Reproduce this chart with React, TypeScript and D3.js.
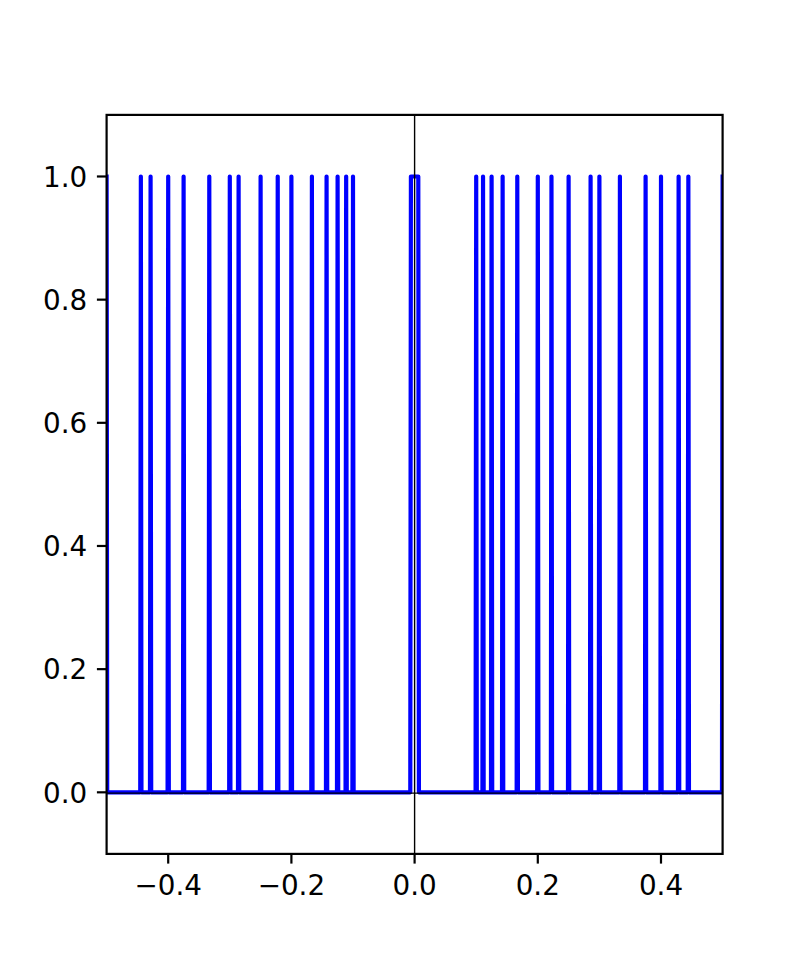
import React from "react";
import * as d3 from "d3";

// Spike positions (x where the signal equals 1)
const negativeSpikes = [
  -0.5, -0.4444, -0.4286, -0.4, -0.375, -0.3333, -0.3, -0.2857, -0.25,
  -0.2222, -0.2, -0.1667, -0.1429, -0.125, -0.1111, -0.1,
];
const positiveSpikes = [
  0.1, 0.1111, 0.125, 0.1429, 0.1667, 0.2, 0.2222, 0.25, 0.2857, 0.3,
  0.3333, 0.375, 0.4, 0.4286, 0.4444, 0.5,
];
// Central plateau (signal = 1 across this interval)
const centerBlock = [-0.006, 0.006];
const sampleStep = 0.001;

const xTicks = [-0.4, -0.2, 0.0, 0.2, 0.4];
const yTicks = [0.0, 0.2, 0.4, 0.6, 0.8, 1.0];
const xDomain = [-0.5, 0.5];
const yDomain = [-0.1, 1.1];

const W = 810;
const H = 960;
const L = 106.6;
const R = 722.6;
const T = 114.9;
const B = 853.9;

function fmt(v: number) {
  const s = Math.abs(v).toFixed(1);
  return v < -1e-9 ? "\u2212" + s : s;
}

export default function App() {
  const x = d3.scaleLinear().domain(xDomain).range([L, R]);
  const y = d3.scaleLinear().domain(yDomain).range([B, T]);

  const pts: [number, number][] = [];
  const allSpikes = [...negativeSpikes, ...positiveSpikes].sort((a, b) => a - b);
  const events: { kind: "spike" | "block"; pos: number }[] = [
    ...allSpikes.map((s) => ({ kind: "spike" as const, pos: s })),
    { kind: "block" as const, pos: centerBlock[0] },
  ].sort((a, b) => a.pos - b.pos);

  for (const e of events) {
    if (e.kind === "spike") {
      const s = e.pos;
      if (s > xDomain[0]) pts.push([s - sampleStep, 0]);
      pts.push([s, 1]);
      if (s < xDomain[1]) pts.push([s + sampleStep, 0]);
    } else {
      pts.push([centerBlock[0] - sampleStep, 0]);
      pts.push([centerBlock[0], 1]);
      pts.push([centerBlock[1], 1]);
      pts.push([centerBlock[1] + sampleStep, 0]);
    }
  }

  const line = d3
    .line<[number, number]>()
    .x((d) => x(d[0]))
    .y((d) => y(d[1]));

  const font = "'DejaVu Sans', sans-serif";
  const fs = 27.8;
  const tickLen = 9.7;
  const spineW = 2.2;

  return (
    <div style={{ position: "absolute", left: 0, top: 0 }}>
      <svg width={W} height={H} style={{ display: "block", background: "#fff" }}>
        <defs>
          <clipPath id="axclip">
            <rect x={L} y={T} width={R - L} height={B - T} />
          </clipPath>
        </defs>
        <g clipPath="url(#axclip)">
          <path
            d={line(pts) || ""}
            fill="none"
            stroke="#0000ff"
            strokeWidth={4.2}
            strokeLinejoin="round"
            strokeLinecap="square"
          />
          <line x1={x(0)} x2={x(0)} y1={T} y2={B} stroke="#000" strokeWidth={1.4} />
          <line x1={L} x2={R} y1={y(0) + 0.8} y2={y(0) + 0.8} stroke="#000" strokeWidth={1.4} />
        </g>
        {/* spines */}
        <rect
          x={L}
          y={T}
          width={R - L}
          height={B - T}
          fill="none"
          stroke="#000"
          strokeWidth={spineW}
          strokeLinejoin="miter"
        />
        {/* x ticks */}
        {xTicks.map((t) => (
          <g key={"x" + t}>
            <line x1={x(t)} x2={x(t)} y1={B} y2={B + tickLen} stroke="#000" strokeWidth={spineW} />
            <text
              x={x(t)}
              y={B + 41.5}
              textAnchor="middle"
              fontFamily={font}
              fontSize={fs}
              fill="#000"
            >
              {fmt(t)}
            </text>
          </g>
        ))}
        {/* y ticks */}
        {yTicks.map((t) => (
          <g key={"y" + t}>
            <line x1={L - tickLen} x2={L} y1={y(t)} y2={y(t)} stroke="#000" strokeWidth={spineW} />
            <text
              x={L - tickLen - 9.7}
              y={y(t) + 10.2}
              textAnchor="end"
              fontFamily={font}
              fontSize={fs}
              fill="#000"
            >
              {fmt(t)}
            </text>
          </g>
        ))}
      </svg>
    </div>
  );
}
